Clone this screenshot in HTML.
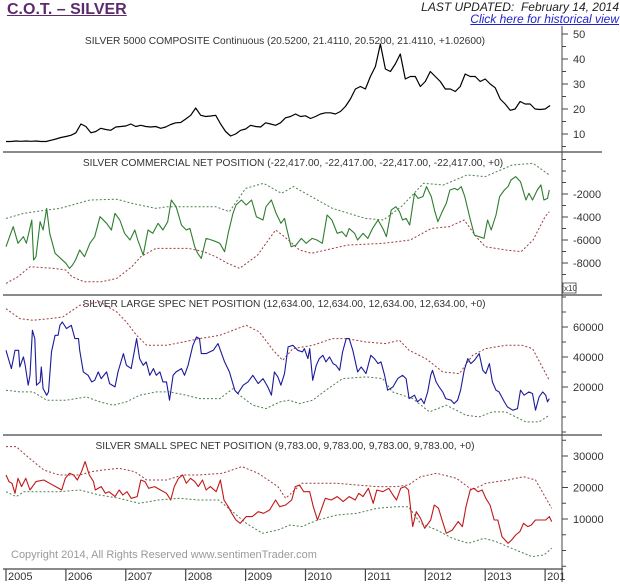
<!DOCTYPE html>
<html><head><meta charset="utf-8">
<style>
body{margin:0;background:#fff;width:620px;height:587px;overflow:hidden;font-family:"Liberation Sans",sans-serif;}
#wrap{position:relative;width:620px;height:587px;}
.t{position:absolute;white-space:nowrap;}
</style></head>
<body>
<div id="wrap">
<div class="t" style="left:7px;top:1px;font-size:16px;font-weight:bold;color:#5e2a6e;text-decoration:underline;">C.O.T. – SILVER</div>
<div class="t" style="right:1px;top:0px;font-size:12px;font-style:italic;color:#222;">LAST UPDATED:&nbsp; February 14, 2014</div>
<div class="t" style="right:1px;top:12px;font-size:12px;font-style:italic;color:#2222cc;text-decoration:underline;cursor:pointer;">Click here for historical view</div>
<svg id="chart" width="620" height="587" style="position:absolute;left:0;top:0" font-family="Liberation Sans, sans-serif"></svg>
</div>
<script>
// ---- Price (monthly, Jan 2005 .. Feb 2014)
const priceValues=[7,7,7.2,7.1,7.2,7.1,7.2,7,7,7.5,8,8.6,
9,9.5,10.5,14,13,10.5,11,12.3,11.8,11.5,12.8,13,
13.2,14,13,13.5,13,12.8,13,12.3,12.8,13.8,14.5,14.6,
16,17.5,20.4,17.5,17,17.2,17.5,14,11,9.2,10,11.5,
12,13.5,13,12.8,14.5,14,13.5,14.5,16.5,17,18,17,
17.3,16.2,17,18,18.5,18.5,18,19,21,24,28,29,
28,33,37,46,36,35,38,42,32,33,33,29,
31,35,33,31,28,28,27,29,34,33,33,31,
32,30,28.5,24,22,19.5,20,23,22,22,20,19.8,
20,21.4];
const priceTicks=[10,20,30,40,50];
// ---- Commercial (display units, x10)
const comDates=[2005.00,2005.08,2005.12,2005.20,2005.29,2005.34,2005.43,2005.46,2005.50,2005.57,2005.62,2005.68,2005.73,2005.82,2006.00,2006.06,2006.11,2006.16,2006.23,2006.31,2006.40,2006.48,2006.57,2006.68,2006.76,2006.82,2006.90,2006.98,2007.07,2007.15,2007.20,2007.29,2007.37,2007.45,2007.54,2007.62,2007.70,2007.76,2007.84,2007.93,2008.01,2008.07,2008.15,2008.20,2008.26,2008.34,2008.43,2008.51,2008.57,2008.65,2008.71,2008.79,2008.84,2008.93,2009.01,2009.10,2009.18,2009.29,2009.34,2009.43,2009.51,2009.59,2009.65,2009.68,2009.76,2009.84,2009.93,2010.01,2010.11,2010.19,2010.28,2010.36,2010.44,2010.53,2010.61,2010.68,2010.73,2010.82,2010.87,2010.96,2011.04,2011.12,2011.21,2011.29,2011.35,2011.43,2011.51,2011.57,2011.62,2011.68,2011.74,2011.82,2011.88,2011.96,2012.02,2012.10,2012.16,2012.21,2012.27,2012.35,2012.41,2012.49,2012.54,2012.60,2012.66,2012.74,2012.82,2012.90,2012.98,2013.04,2013.10,2013.18,2013.24,2013.32,2013.38,2013.43,2013.51,2013.59,2013.68,2013.73,2013.79,2013.87,2013.93,2013.98,2014.04,2014.07];
const comValues=[-6580,-5420,-4840,-6290,-5710,-6290,-4260,-7740,-7450,-4410,-5130,-3250,-5420,-7160,-8030,-8470,-8180,-7740,-6870,-7450,-6290,-5710,-3970,-4550,-5130,-3680,-4260,-5420,-6000,-5130,-6000,-7310,-5130,-5420,-4550,-5130,-4410,-2520,-3100,-4700,-5130,-4990,-6580,-7160,-7600,-5860,-6000,-6150,-6290,-7020,-5420,-3680,-2960,-2520,-2960,-2520,-3970,-4260,-3100,-2520,-3680,-4550,-4120,-4840,-6580,-6440,-5860,-6290,-5860,-6000,-6290,-3830,-4260,-5420,-5280,-5710,-5000,-5420,-6000,-5420,-5860,-4990,-4260,-4990,-5710,-3400,-3100,-3540,-4260,-4120,-4700,-1940,-2380,-2230,-1360,-2230,-3540,-4410,-3680,-2810,-1650,-1510,-1650,-1360,-2230,-3970,-5570,-5710,-5860,-4260,-5130,-3830,-2230,-1650,-1360,-780,-490,-930,-2520,-1940,-2520,-1650,-1220,-2520,-2380,-1650,-2230];
const comUpperDates=[2005.00,2005.30,2005.68,2005.90,2006.40,2006.85,2007.10,2007.50,2007.70,2008.00,2008.50,2008.73,2009.00,2009.30,2009.60,2009.80,2009.90,2010.45,2011.00,2011.30,2011.60,2011.97,2012.30,2012.70,2013.00,2013.45,2013.80,2014.07];
const comUpperValues=[-4120,-3680,-3390,-3250,-2520,-2450,-2810,-3250,-3100,-3100,-3100,-3540,-1510,-1070,-1940,-1360,-1650,-3250,-4120,-4260,-3100,-1070,-1220,-350,-490,520,670,-350];
const comLowerDates=[2005.00,2005.20,2005.40,2005.80,2006.00,2006.10,2006.30,2006.60,2006.85,2007.10,2007.25,2007.50,2007.80,2008.05,2008.30,2008.50,2008.70,2008.90,2009.20,2009.50,2009.65,2009.90,2010.10,2010.70,2011.30,2011.75,2012.10,2012.40,2012.65,2012.85,2013.00,2013.35,2013.60,2013.80,2014.00,2014.07];
const comLowerValues=[-9770,-9190,-8320,-8470,-8610,-9190,-9630,-9630,-9340,-8320,-7450,-6730,-6730,-6730,-7020,-7450,-8030,-8470,-7310,-5130,-5710,-6870,-7160,-6440,-6290,-6000,-4990,-4840,-4260,-5710,-6580,-6870,-7020,-6000,-3970,-3540];
const comTicks=[-2000,-4000,-6000,-8000];
// ---- Large spec
const lsDates=[2005.00,2005.04,2005.09,2005.15,2005.21,2005.23,2005.29,2005.32,2005.37,2005.40,2005.44,2005.48,2005.51,2005.57,2005.59,2005.62,2005.68,2005.71,2005.76,2005.82,2005.87,2005.90,2005.94,2006.01,2006.09,2006.15,2006.21,2006.23,2006.29,2006.37,2006.43,2006.48,2006.54,2006.59,2006.68,2006.73,2006.82,2006.87,2006.96,2007.01,2007.09,2007.18,2007.23,2007.29,2007.34,2007.40,2007.46,2007.51,2007.57,2007.62,2007.68,2007.73,2007.79,2007.84,2007.93,2007.98,2008.04,2008.12,2008.18,2008.23,2008.26,2008.34,2008.46,2008.54,2008.59,2008.65,2008.73,2008.82,2008.87,2008.96,2009.04,2009.12,2009.21,2009.29,2009.37,2009.43,2009.48,2009.54,2009.59,2009.65,2009.71,2009.79,2009.87,2009.95,2009.98,2010.04,2010.07,2010.12,2010.18,2010.23,2010.29,2010.34,2010.40,2010.46,2010.51,2010.57,2010.62,2010.68,2010.73,2010.79,2010.87,2010.93,2011.01,2011.09,2011.15,2011.21,2011.26,2011.32,2011.37,2011.46,2011.54,2011.62,2011.68,2011.73,2011.82,2011.87,2011.93,2011.98,2012.04,2012.09,2012.12,2012.18,2012.23,2012.29,2012.34,2012.43,2012.48,2012.54,2012.59,2012.65,2012.71,2012.76,2012.82,2012.90,2012.96,2013.01,2013.07,2013.12,2013.18,2013.23,2013.32,2013.37,2013.46,2013.54,2013.59,2013.65,2013.73,2013.79,2013.84,2013.90,2013.96,2014.01,2014.04,2014.07];
const lsValues=[44480,38930,32270,44480,44480,33380,40040,34490,21170,27830,57800,52250,21170,23390,33380,18950,14510,16730,43370,54470,54470,61130,63350,58900,61130,52250,52250,44480,30050,27830,23390,24500,30050,25610,30050,22280,20060,30050,42260,34490,32270,52250,38930,34490,36710,27830,32270,27830,30050,23390,23390,11180,27830,30050,32270,27830,34490,47810,53360,52250,42260,42260,44480,48920,43370,36710,30050,17840,15620,21170,23390,27830,22280,25610,20060,14510,30050,26720,21170,28940,46700,47810,44480,43370,45590,38930,45590,24500,34490,38930,41150,36710,40040,35600,34490,31160,43370,52250,52250,44480,30050,33380,28940,41150,38930,35600,36710,27830,17840,20060,25610,27830,25610,12290,14510,10070,12290,8960,16730,27830,31160,23390,20060,16730,12290,11180,8960,11180,17840,31160,38930,35600,37820,42260,31160,28940,35600,23390,17840,16730,10070,6740,4520,5630,17840,14510,16730,15620,4520,13400,16730,14510,10070,12290];
const lsUpperDates=[2005.00,2005.23,2005.45,2005.73,2005.95,2006.23,2006.57,2006.85,2007.01,2007.18,2007.35,2007.68,2007.96,2008.23,2008.57,2008.79,2009.01,2009.23,2009.46,2009.62,2009.79,2010.12,2010.45,2010.68,2011.01,2011.34,2011.57,2011.73,2012.01,2012.29,2012.57,2012.79,2013.01,2013.34,2013.62,2013.79,2014.07];
const lsUpperValues=[72230,65570,64460,65570,66700,74450,76700,70000,63350,54470,47810,47810,50030,52250,54470,57800,61130,56690,44480,37820,45590,47810,52250,52250,50030,48920,51140,44480,38930,30050,28940,41150,45590,47810,47810,45590,24500];
const lsLowerDates=[2005.00,2005.23,2005.45,2005.68,2006.01,2006.34,2006.57,2006.79,2007.01,2007.23,2007.51,2007.73,2008.01,2008.23,2008.57,2008.79,2008.90,2009.12,2009.34,2009.57,2009.73,2009.90,2010.12,2010.34,2010.62,2011.01,2011.29,2011.45,2011.79,2012.07,2012.35,2012.68,2012.90,2013.12,2013.34,2013.68,2013.90,2014.07];
const lsLowerValues=[17840,16730,16730,11180,11180,13400,10070,7850,10070,14510,16730,16730,14510,12290,12290,18950,14510,7850,5630,10070,11180,8960,11180,17840,25610,26720,25610,16730,12290,3410,7850,1190,80,3410,3410,-3250,-3250,1190];
const lsTicks=[20000,40000,60000];
// ---- Small spec
const ssDates=[2005.00,2005.05,2005.10,2005.15,2005.20,2005.26,2005.33,2005.40,2005.50,2005.63,2005.73,2005.83,2005.93,2005.99,2006.06,2006.13,2006.19,2006.26,2006.32,2006.39,2006.46,2006.49,2006.59,2006.66,2006.72,2006.82,2006.89,2006.95,2007.02,2007.09,2007.19,2007.25,2007.32,2007.38,2007.48,2007.58,2007.68,2007.75,2007.81,2007.88,2007.95,2008.01,2008.08,2008.15,2008.21,2008.28,2008.34,2008.41,2008.51,2008.58,2008.64,2008.71,2008.77,2008.84,2008.91,2009.01,2009.11,2009.21,2009.30,2009.40,2009.50,2009.57,2009.67,2009.77,2009.83,2009.90,2009.97,2010.07,2010.13,2010.20,2010.26,2010.33,2010.43,2010.53,2010.63,2010.73,2010.83,2010.89,2010.96,2011.05,2011.13,2011.19,2011.29,2011.39,2011.46,2011.52,2011.59,2011.66,2011.72,2011.79,2011.85,2011.92,2011.99,2012.09,2012.15,2012.22,2012.28,2012.35,2012.45,2012.55,2012.62,2012.68,2012.75,2012.81,2012.88,2012.95,2013.01,2013.08,2013.15,2013.21,2013.28,2013.38,2013.44,2013.51,2013.58,2013.64,2013.71,2013.77,2013.84,2013.91,2014.01,2014.07,2014.11];
const ssValues=[23970,21860,21330,18150,22920,20270,22920,19210,21860,22390,21330,20270,19210,22920,24500,23970,22390,25030,28210,23970,21860,19210,20270,18150,18680,17100,19210,17630,18680,16570,17100,22390,21860,19740,20270,19210,18150,16040,20270,22920,23970,21330,22920,21860,20270,22390,19210,20270,18680,22390,16040,13920,11810,9690,8630,10750,10750,12330,11810,12860,16040,13920,14450,16040,20270,20800,18680,18680,13920,9690,12860,16570,16040,17100,15510,17100,16040,18150,17100,19740,14980,19210,18680,19740,17630,16040,19740,20270,19210,7580,12330,10220,7050,9690,14450,13390,9690,5460,6520,9160,7580,13920,19210,19740,18680,19210,16570,14450,9690,9690,4400,2280,3340,4930,5990,8630,7580,8100,9690,9690,9690,10750,9160];
const ssUpperDates=[2005.00,2005.17,2005.36,2005.63,2005.89,2006.23,2006.42,2006.62,2006.89,2007.15,2007.35,2007.68,2007.95,2008.21,2008.61,2008.94,2009.21,2009.54,2009.67,2009.94,2010.20,2010.53,2010.86,2011.19,2011.52,2011.72,2011.92,2012.19,2012.52,2012.78,2013.01,2013.38,2013.64,2013.84,2014.11];
const ssUpperValues=[32970,32970,29790,25560,23970,23970,25030,25560,26090,25030,22390,22390,23970,23970,24500,26620,24500,20270,16570,21330,21330,21330,20800,20270,20270,20800,23440,24500,22920,19210,21330,22390,23440,22390,13390];
const ssLowerDates=[2005.00,2005.17,2005.30,2005.56,2005.89,2006.23,2006.56,2006.89,2007.22,2007.55,2007.89,2008.22,2008.55,2008.75,2009.01,2009.28,2009.54,2009.74,2009.94,2010.20,2010.53,2010.86,2011.19,2011.52,2011.72,2011.92,2012.19,2012.45,2012.72,2012.98,2013.18,2013.51,2013.78,2013.98,2014.11];
const ssLowerValues=[18680,17100,18680,18680,18680,19210,17630,16570,14980,16040,16570,16040,16040,12860,8630,5460,6520,8100,7580,9690,11280,11810,13390,13920,13920,8630,6520,3870,2280,3870,2810,170,-1950,-1420,690];
const ssTicks=[10000,20000,30000];
const years=[2005,2006,2007,2008,2009,2010,2011,2012,2013,2014];

// ---- axis functions
const AXX=562;
function xOf(t){return 6+(t-2005)*59.9;}
function yPrice(v){return 134-(v-10)*2.5;}
function yCom(v){return 194+(-2000-v)*0.0115;}
function yLs(v){return 387-(v-20000)*0.0015;}
function ySs(v){return 519-(v-10000)*0.00315;}

const svg=document.getElementById('chart');
const NS='http://www.w3.org/2000/svg';
function mk(tag,attrs,parent){const e=document.createElementNS(NS,tag);for(const k in attrs)e.setAttribute(k,attrs[k]);(parent||svg).appendChild(e);return e;}

function hline(y,x1,x2,nm){const l=mk('line',{x1:x1,x2:x2,y1:y,y2:y,stroke:'#444','stroke-width':1.3});

}
hline(152,3,602,'panel-divider-1');hline(295,3,602,'panel-divider-2');hline(435,3,602,'panel-divider-3');hline(569,3,563,'x-axis-line');
const ax=mk('line',{x1:AXX,x2:AXX,y1:26,y2:582,stroke:'#444','stroke-width':1});



function txt(x,y,s,size,nm,extra){const e=mk('text',Object.assign({x:x,y:y,'font-size':size,fill:'#333'},extra||{}));e.textContent=s;

return e;}

function ticks(vals,minorStep,yfn,top,bot,nm){
  const lo=Math.min(...vals)-minorStep*6,hi=Math.max(...vals)+minorStep*6;
  for(let v=Math.ceil(lo/minorStep)*minorStep;v<=hi;v+=minorStep){const y=yfn(v);if(y<top||y>bot)continue;
    const major=vals.indexOf(v)>=0;
    const t=mk('line',{x1:AXX,x2:AXX+(major?6:4),y1:y,y2:y,stroke:'#444','stroke-width':1});
    
    }
  vals.forEach(v=>{txt(AXX+11,yfn(v)+4,String(v),11,nm+'-label');});
}
ticks(priceTicks,5,yPrice,28,150,'price-axis');
ticks(comTicks,1000,yCom,154,292,'commercial-axis');
ticks(lsTicks,10000,yLs,297,433,'large-spec-axis');
ticks(ssTicks,5000,ySs,437,567,'small-spec-axis');

years.forEach(yr=>{const x=xOf(yr);
  const t=mk('line',{x1:x,x2:x,y1:569,y2:581,stroke:'#444','stroke-width':1.2});
  
  
  txt(x+2,580,yr===2014?'201':String(yr),11,'x-axis-label');});

const bx=mk('rect',{x:563,y:283,width:13,height:10,fill:'#fff',stroke:'#444','stroke-width':0.8});


txt(564,291,'x10',8,'scale-label');

txt(285,44,'SILVER 5000 COMPOSITE Continuous (20.5200, 21.4110, 20.5200, 21.4110, +1.02600)',10.2,'price-title',{'text-anchor':'middle'});
txt(293,166,'SILVER COMMERCIAL NET POSITION (-22,417.00, -22,417.00, -22,417.00, -22,417.00, +0)',10.2,'commercial-title',{'text-anchor':'middle'});
txt(284,307,'SILVER LARGE SPEC NET POSITION (12,634.00, 12,634.00, 12,634.00, 12,634.00, +0)',10.2,'large-spec-title',{'text-anchor':'middle'});
txt(285,449,'SILVER SMALL SPEC NET POSITION (9,783.00, 9,783.00, 9,783.00, 9,783.00, +0)',10.2,'small-spec-title',{'text-anchor':'middle'});
txt(11,558,'Copyright 2014, All Rights Reserved  www.sentimenTrader.com',11,'copyright',{fill:'#9a9a9a'});

function series(dates,vals,yfn,color,dash,w,nm){
  const d=dates.map((t,i)=>(i?'L':'M')+xOf(t).toFixed(1)+' '+yfn(vals[i]).toFixed(1)).join(' ');
  const p=mk('path',{d:d,fill:'none',stroke:color,'stroke-width':w,'stroke-dasharray':dash||'none','stroke-linejoin':'round'});
  
  
}
const priceDates=priceValues.map((v,i)=>2005+i/12);
series(priceDates,priceValues,yPrice,'#000','',1.2,'price-line');
series(comUpperDates,comUpperValues,yCom,'#4f7f4f','2 2',1,'commercial-upper-band');
series(comLowerDates,comLowerValues,yCom,'#a03a3a','2 2',1,'commercial-lower-band');
series(comDates,comValues,yCom,'#2e7d2e','',1.1,'commercial-line');
series(lsUpperDates,lsUpperValues,yLs,'#a03a3a','2 2',1,'large-spec-upper-band');
series(lsLowerDates,lsLowerValues,yLs,'#4f7f4f','2 2',1,'large-spec-lower-band');
series(lsDates,lsValues,yLs,'#1a1a9a','',1.1,'large-spec-line');
series(ssUpperDates,ssUpperValues,ySs,'#a03a3a','2 2',1,'small-spec-upper-band');
series(ssLowerDates,ssLowerValues,ySs,'#4f7f4f','2 2',1,'small-spec-lower-band');
series(ssDates,ssValues,ySs,'#c01818','',1.1,'small-spec-line');
</script>
</body></html>
